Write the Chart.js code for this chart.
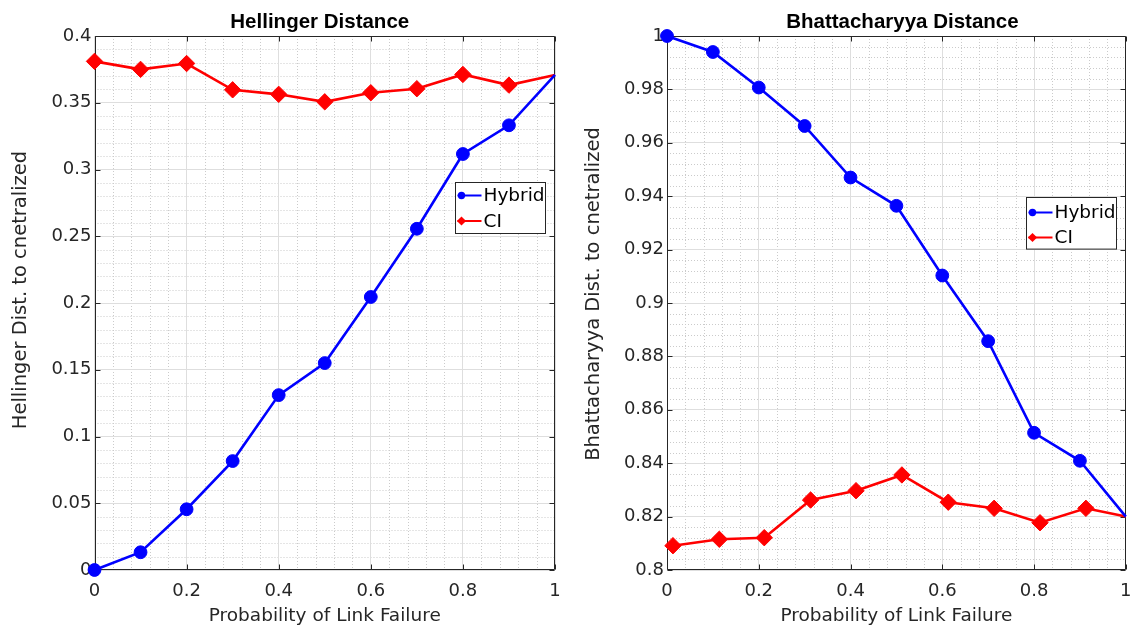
<!DOCTYPE html>
<html>
<head>
<meta charset="utf-8">
<script src="https://cdn.jsdelivr.net/npm/chart.js@4.4.0/dist/chart.umd.min.js"></script>
<style>
html,body{margin:0;padding:0;background:#fff;}
#wrap{position:relative;width:1135px;height:633px;overflow:hidden;background:#fff;}
.panel{position:absolute;top:0;height:633px;}
</style>
</head>
<body>
<div id="wrap">
  <div class="panel" style="left:0;width:567px;"><canvas id="c1"></canvas></div>
  <div class="panel" style="left:567px;width:568px;"><canvas id="c2"></canvas></div>
</div>
<script>
// ---------- data ----------
const linkFailure = [0, 0.1, 0.2, 0.3, 0.4, 0.5, 0.6, 0.7, 0.8, 0.9, 1.0];
const hellingerHybrid = [0, 0.0133, 0.0455, 0.0816, 0.131, 0.155, 0.2045, 0.2556, 0.3116, 0.3331, 0.3708];
const hellingerCI = [0.381, 0.375, 0.3794, 0.3597, 0.3563, 0.3507, 0.3575, 0.3605, 0.3712, 0.3632, 0.3708];

const linkFailureCI2 = [0.013, 0.114, 0.212, 0.313, 0.412, 0.512, 0.613, 0.713, 0.813, 0.913, 1.0];
const bhattHybrid = [1.0, 0.994, 0.9807, 0.9663, 0.947, 0.9364, 0.9103, 0.8857, 0.8514, 0.8409, 0.82];
const bhattCI = [0.8091, 0.8115, 0.8121, 0.8262, 0.8297, 0.8356, 0.8254, 0.8231, 0.8177, 0.8231, 0.82];

const seriesNames = ['Hybrid', 'CI'];
const xTicksMajor = [0, 0.2, 0.4, 0.6, 0.8, 1];
const yTicksHel = [0, 0.05, 0.1, 0.15, 0.2, 0.25, 0.3, 0.35, 0.4];
const yTicksBha = [0.8, 0.82, 0.84, 0.86, 0.88, 0.9, 0.92, 0.94, 0.96, 0.98, 1];
const chartTitles = ['Hellinger Distance', 'Bhattacharyya Distance'];
const yTitles = ['Hellinger Dist. to cnetralized', 'Bhattacharyya Dist. to cnetralized'];
const xTitle = 'Probability of Link Failure';

// ---------- helpers ----------
const FONT = "'DejaVu Sans', sans-serif";
const TXT = '#262626';
Chart.defaults.font.family = FONT;

function pts(xs, ys) { return xs.map((x, i) => ({x: x, y: ys[i]})); }
function fmt(v) { return String(Number(v.toFixed(4))); }
function minorList(min, max, step, every) {
  const out = [];
  const n = Math.round((max - min) / step);
  for (let i = 1; i < n; i++) { if (i % every !== 0) out.push(min + i * step); }
  return out;
}

const matlabAxes = {
  id: 'matlabAxes',
  beforeDraw(chart) {
    const o = chart.options.plugins.matlabAxes;
    const {ctx, chartArea: a} = chart;
    const xs = chart.scales.x, ys = chart.scales.y;
    ctx.save();
    ctx.strokeStyle = '#cbcbcb';
    ctx.lineWidth = 1;
    ctx.setLineDash([1, 2]);
    ctx.beginPath();
    o.xMinor.forEach(v => { const p = Math.round(xs.getPixelForValue(v)) + 0.5; ctx.moveTo(p, a.top); ctx.lineTo(p, a.bottom); });
    o.yMinor.forEach(v => { const p = Math.round(ys.getPixelForValue(v)) + 0.5; ctx.moveTo(a.left, p); ctx.lineTo(a.right, p); });
    ctx.stroke();
    ctx.restore();
  },
  beforeDatasetsDraw(chart) {
    const o = chart.options.plugins.matlabAxes;
    const {ctx, chartArea: a} = chart;
    const xs = chart.scales.x, ys = chart.scales.y;
    ctx.save();
    ctx.strokeStyle = TXT;
    ctx.lineWidth = 1;
    const L = Math.round(a.left) + 0.5, R = Math.round(a.right) - 0.5;
    const T = Math.round(a.top) + 0.5, B = Math.round(a.bottom) - 0.5;
    ctx.beginPath();
    ctx.rect(L, T, R - L, B - T);
    xs.ticks.forEach(t => {
      const p = Math.round(xs.getPixelForValue(t.value)) + 0.5;
      ctx.moveTo(p, B); ctx.lineTo(p, B - 5);
      ctx.moveTo(p, T); ctx.lineTo(p, T + 5);
    });
    ys.ticks.forEach(t => {
      const p = Math.round(ys.getPixelForValue(t.value)) + 0.5;
      ctx.moveTo(L, p); ctx.lineTo(L + 5, p);
      ctx.moveTo(R, p); ctx.lineTo(R - 5, p);
    });
    ctx.stroke();

    // chart title
    ctx.fillStyle = '#000';
    ctx.font = "bold 20.5px 'Liberation Sans', Arial, sans-serif";
    ctx.textAlign = 'center';
    ctx.textBaseline = 'alphabetic';
    ctx.fillText(o.title.text, (a.left + a.right) / 2 + o.title.dx, 28);

    // y-axis title
    ctx.fillStyle = TXT;
    ctx.font = "19.5px " + FONT;
    ctx.textBaseline = 'middle';
    ctx.translate(o.yTitle.x, o.yTitle.y);
    ctx.rotate(-Math.PI / 2);
    ctx.fillText(o.yTitle.text, 0, 0);
    ctx.restore();
  },
  afterDraw(chart) {
    const o = chart.options.plugins.matlabAxes.legend;
    const {ctx, chartArea: a} = chart;
    const bx = Math.round(a.right - o.right - o.width) + 0.5;
    const by = Math.round(a.top + o.top) + 0.5;
    ctx.save();
    ctx.fillStyle = '#fff';
    ctx.fillRect(bx, by, o.width, o.height);
    ctx.strokeStyle = TXT;
    ctx.lineWidth = 1;
    ctx.strokeRect(bx, by, o.width, o.height);
    chart.data.datasets.forEach((ds, i) => {
      const ry = by + o.rows[i];
      ctx.strokeStyle = ds.borderColor;
      ctx.lineWidth = 2;
      ctx.beginPath();
      ctx.moveTo(bx + 2, ry); ctx.lineTo(bx + 26, ry);
      ctx.stroke();
      ctx.fillStyle = ds.borderColor;
      const mx = bx + 6;
      ctx.beginPath();
      if (ds.pointStyle === 'rectRot') {
        const r = 4.6;
        ctx.moveTo(mx, ry - r); ctx.lineTo(mx + r, ry); ctx.lineTo(mx, ry + r); ctx.lineTo(mx - r, ry); ctx.closePath();
      } else {
        ctx.arc(mx, ry, 3.7, 0, Math.PI * 2);
      }
      ctx.fill();
      ctx.fillStyle = '#000';
      ctx.font = "18.5px " + FONT;
      ctx.textBaseline = 'middle';
      ctx.textAlign = 'left';
      ctx.fillText(ds.label, bx + 28, ry + 1);
    });
    ctx.restore();
  }
};

function lastNoMarker(r) {
  return ctx => (ctx.dataIndex === ctx.dataset.data.length - 1 ? 0 : r);
}

function makeChart(id, cfg) {
  return new Chart(document.getElementById(id), {
    type: 'line',
    data: {
      datasets: [
        {
          label: seriesNames[0], data: cfg.hybrid,
          borderColor: '#0000ff', backgroundColor: '#0000ff',
          borderWidth: 2.6, pointStyle: 'circle',
          pointRadius: lastNoMarker(6.4), pointBorderWidth: 1,
          pointBackgroundColor: '#0000ff', pointBorderColor: '#0000ff',
          tension: 0, fill: false, clip: false
        },
        {
          label: seriesNames[1], data: cfg.ci,
          borderColor: '#ff0000', backgroundColor: '#ff0000',
          borderWidth: 2.6, pointStyle: 'rectRot',
          pointRadius: lastNoMarker(8.2), pointBorderWidth: 1,
          pointBackgroundColor: '#ff0000', pointBorderColor: '#ff0000',
          tension: 0, fill: false, clip: false
        }
      ]
    },
    options: {
      responsive: true,
      maintainAspectRatio: false,
      animation: false,
      events: [],
      layout: {padding: {left: 0, right: cfg.padRight, top: 36, bottom: 0}},
      scales: {
        x: {
          type: 'linear', min: 0, max: 1,
          afterFit: s => { s.height = 63; s.paddingLeft = 0; s.paddingRight = 0; },
          afterBuildTicks: s => { s.ticks = xTicksMajor.map(v => ({value: v})); },
          ticks: {
            callback: v => fmt(v), color: TXT, padding: 11,
            font: {family: FONT, size: 18}, maxRotation: 0, autoSkip: false
          },
          grid: {color: '#dedede', lineWidth: 1, drawTicks: false},
          border: {display: false},
          title: {display: true, text: xTitle, color: TXT, font: {family: FONT, size: 18.5}, padding: {top: 0, bottom: 6}}
        },
        y: {
          type: 'linear', min: cfg.yMin, max: cfg.yMax,
          afterFit: s => { s.width = cfg.yWidth; s.paddingTop = 0; s.paddingBottom = 0; },
          afterBuildTicks: s => { s.ticks = cfg.yTicks.map(v => ({value: v})); },
          ticks: {
            callback: v => fmt(v), color: TXT, padding: 3,
            font: {family: FONT, size: 18}, autoSkip: false
          },
          grid: {color: '#dedede', lineWidth: 1, drawTicks: false},
          border: {display: false},
          title: {display: false}
        }
      },
      plugins: {
        legend: {display: false},
        tooltip: {enabled: false},
        title: {display: false},
        matlabAxes: {
          xMinor: minorList(0, 1, 0.04, 5),
          yMinor: cfg.yMinor,
          legend: cfg.legend,
          title: {text: cfg.title, dx: cfg.titleDx},
          yTitle: {text: cfg.yTitle, x: cfg.yTitleX, y: cfg.yTitleY}
        }
      }
    },
    plugins: [matlabAxes]
  });
}

makeChart('c1', {
  hybrid: pts(linkFailure, hellingerHybrid),
  ci: pts(linkFailure, hellingerCI),
  title: chartTitles[0], titleDx: -5,
  yTitle: yTitles[0], yTitleX: 21, yTitleY: 290,
  yMin: 0, yMax: 0.4, yTicks: yTicksHel,
  yMinor: minorList(0, 0.4, 0.01, 5),
  yWidth: 94.5, padRight: 12,
  legend: {right: 10, width: 90, top: 146.3, height: 51, rows: [13, 38.5]}
});

makeChart('c2', {
  hybrid: pts(linkFailure, bhattHybrid),
  ci: pts(linkFailureCI2, bhattCI),
  title: chartTitles[1], titleDx: 6,
  yTitle: yTitles[1], yTitleX: 27, yTitleY: 294,
  yMin: 0.8, yMax: 1, yTicks: yTicksBha,
  yMinor: minorList(0.8, 1, 0.004, 5),
  yWidth: 100, padRight: 7,
  legend: {right: 10.3, width: 90, top: 160.7, height: 51.6, rows: [15, 40]}
});
</script>
</body>
</html>
